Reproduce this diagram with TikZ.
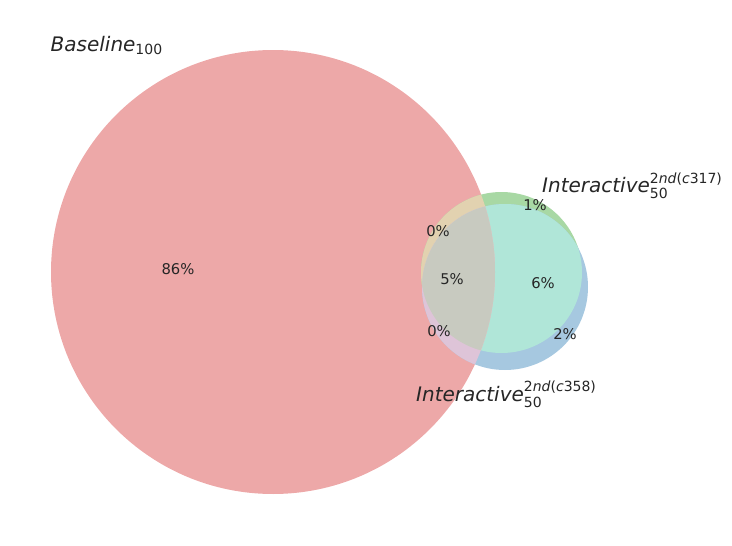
\documentclass[tikz,border=0pt]{standalone}
\usepackage{fontspec}
\setmainfont{DejaVu Sans}
\definecolor{txt}{RGB}{38,38,38}
\definecolor{cRo}{RGB}{237,168,168}
\definecolor{cGo}{RGB}{168,216,164}
\definecolor{cBo}{RGB}{166,200,224}
\definecolor{cGB}{RGB}{176,230,216}
\definecolor{cRG}{RGB}{226,210,176}
\definecolor{cRB}{RGB}{222,196,216}
\definecolor{cRGB}{RGB}{200,202,192}
\newcommand{\mainsz}{\fontsize{20}{20}\selectfont}
\newcommand{\scrsz}{\fontsize{14}{14}\selectfont}
\newcommand{\pctsz}{\fontsize{14.8}{14.8}\selectfont}
\begin{document}
\begin{tikzpicture}[x=1pt,y=-1pt,
  setlabel/.style={anchor=base west, inner sep=0pt, text=txt, font=\mainsz},
  pct/.style={inner sep=0pt, text=txt, font=\pctsz}]
\useasboundingbox (0,0) rectangle (732,546);
\coordinate (cR) at (273,272);
\coordinate (cG) at (501.5,272.5);
\coordinate (cB) at (505,287);
% base fills
\fill[cRo] (cR) circle[radius=222pt];
\fill[cGo] (cG) circle[radius=80.5pt];
\fill[cBo] (cB) circle[radius=83pt];
\begin{scope}
  \clip (cG) circle[radius=80.5pt];
  \fill[cGB] (cB) circle[radius=83pt];
\end{scope}
\begin{scope}
  \clip (cR) circle[radius=222pt];
  \fill[cRG] (cG) circle[radius=80.5pt];
\end{scope}
\begin{scope}
  \clip (cR) circle[radius=222pt];
  \fill[cRB] (cB) circle[radius=83pt];
\end{scope}
\begin{scope}
  \clip (cR) circle[radius=222pt];
  \clip (cG) circle[radius=80.5pt];
  \fill[cRGB] (cB) circle[radius=83pt];
\end{scope}
% set labels
\node[setlabel] (lR) at (50.5,51) {\itshape Baseline\raisebox{-3.5pt}{\scrsz\upshape 100}};
\node[setlabel] (lG) at (542,192.5) {\itshape Interactive\rlap{\raisebox{9.5pt}{\scrsz\upshape 2\itshape nd\upshape(\itshape c\upshape 317)}}\raisebox{-6pt}{\scrsz\upshape 50}};
\node[setlabel] (lB) at (416,401) {\itshape Interactive\rlap{\raisebox{9.5pt}{\scrsz\upshape 2\itshape nd\upshape(\itshape c\upshape 358)}}\raisebox{-6pt}{\scrsz\upshape 50}};
% percentages
\node[pct] (p100) at (178,269) {86\%};
\node[pct] (p010) at (535,205) {1\%};
\node[pct] (p110) at (438,231) {0\%};
\node[pct] (p111) at (452,279) {5\%};
\node[pct] (p011) at (543,283) {6\%};
\node[pct] (p101) at (439,331) {0\%};
\node[pct] (p001) at (565,334) {2\%};
\end{tikzpicture}
\end{document}
